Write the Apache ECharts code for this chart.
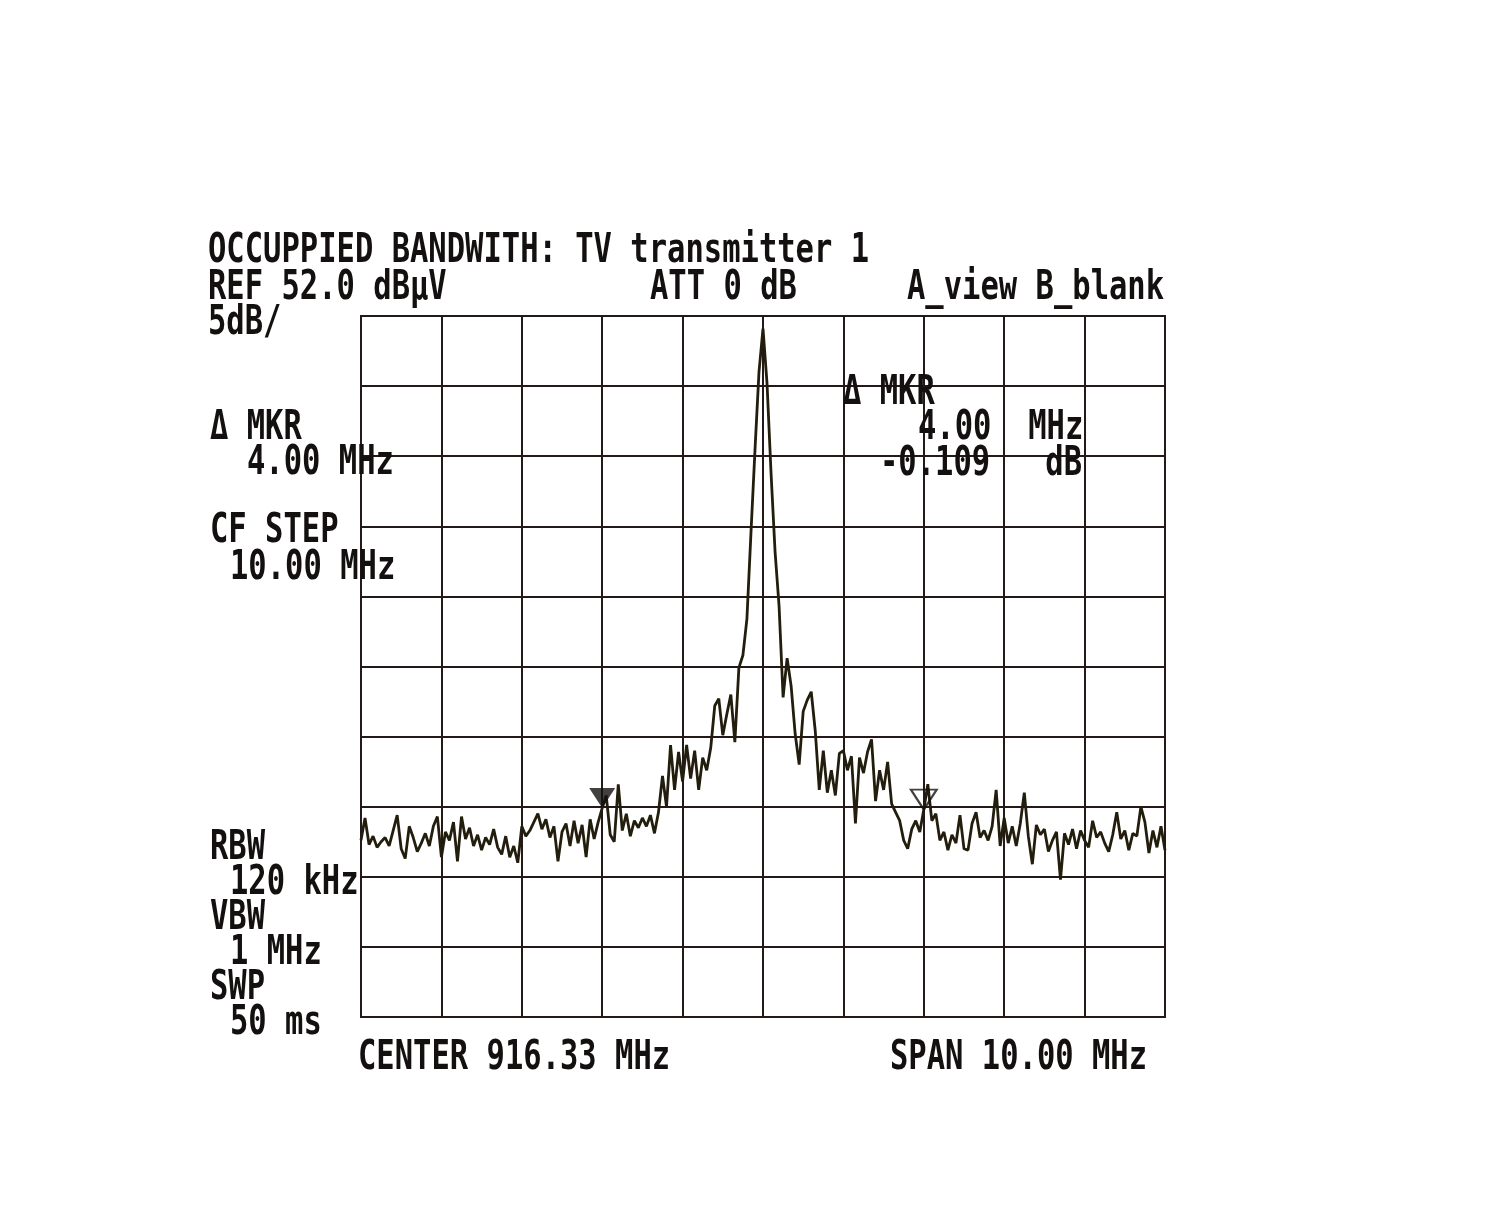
<!DOCTYPE html>
<html>
<head>
<meta charset="utf-8">
<script src="https://cdn.jsdelivr.net/npm/echarts@6/dist/echarts.min.js"></script>
<style>
html,body{margin:0;padding:0;background:#fff;}
#chart{width:1489px;height:1227px;}
</style>
</head>
<body>
<div id="chart"></div>
<script>
// ---- data ----
const REF_LEVEL = 52.0;          // dBuV, top of screen
const DB_PER_DIV = 5;
const SPAN_MIN = -5;             // MHz relative to centre 916.33 MHz
const SPAN_MAX = 5;
// trace level in dBuV, sweep points evenly spaced across span
const traceLevel = [
  14.6, 16.2, 14.3, 14.9, 14.1, 14.5, 14.8, 14.2, 15.3, 16.4, 14.0, 13.3, 15.6, 14.8, 13.8, 14.4, 15.1, 14.2, 15.6, 16.3,
  13.4, 15.2, 14.6, 15.9, 13.1, 16.3, 14.7, 15.5, 14.2, 15.0, 13.9, 14.8, 14.3, 15.4, 14.1, 13.6, 14.9, 13.4, 14.2, 13.0,
  15.6, 14.9, 15.3, 15.9, 16.5, 15.4, 16.1, 14.8, 15.6, 13.1, 15.2, 15.8, 14.2, 16.0, 14.4, 15.7, 13.4, 16.1, 14.7, 15.9,
  16.9, 17.8, 15.0, 14.5, 18.6, 15.3, 16.5, 14.9, 16.0, 15.5, 16.2, 15.6, 16.4, 15.1, 16.6, 19.2, 17.0, 21.4, 18.2, 20.9,
  18.8, 21.4, 19.0, 21.0, 18.2, 20.5, 19.6, 21.2, 24.2, 24.7, 22.1, 23.6, 25.0, 21.6, 26.9, 27.8, 30.4, 36.5, 42.4, 48.0,
  51.1, 47.2, 40.8, 35.2, 31.3, 24.8, 27.6, 25.6, 22.2, 20.0, 23.8, 24.6, 25.2, 22.4, 18.2, 21.0, 18.0, 19.6, 17.8, 20.8,
  21.0, 19.6, 20.6, 15.8, 20.5, 19.4, 20.9, 21.8, 17.4, 19.6, 18.2, 20.2, 17.2, 16.6, 16.0, 14.6, 14.0, 15.4, 16.0, 15.2,
  16.8, 18.6, 16.0, 16.5, 14.6, 15.2, 13.9, 15.0, 14.4, 16.4, 14.0, 13.9, 15.8, 16.6, 14.8, 15.3, 14.6, 15.6, 18.2, 14.2,
  16.2, 14.4, 15.6, 14.2, 15.8, 18.0, 14.9, 12.9, 15.7, 15.0, 15.4, 13.8, 14.6, 15.2, 11.8, 15.1, 14.3, 15.4, 14.0, 15.3,
  14.6, 14.1, 16.0, 14.8, 15.2, 14.4, 13.8, 15.0, 16.6, 14.7, 15.3, 13.9, 15.1, 14.9, 17.0, 15.9, 13.7, 15.3, 14.1, 15.6, 13.9
];
const markerFreq = [-2.0, 2.0];     // MHz rel. centre (reference marker, delta marker)
const markerLevel = [16.9, 16.8];   // dBuV

// ---- build ----
const n = traceLevel.length;
const traceData = traceLevel.map((v, i) => [SPAN_MIN + i * (SPAN_MAX - SPAN_MIN) / (n - 1), v - REF_LEVEL]);

const FONT_SIZE = 30.5;
const SY = 1.32;
const FONT = 'bold ' + FONT_SIZE + 'px "DejaVu Sans Mono", "Liberation Mono", monospace';
const INK = '#141010';
function txt(s, x, y) {
  return {
    type: 'text', x: x, y: y + 3, scaleY: SY, z: 10,
    style: { text: s, font: FONT, fill: INK, textVerticalAlign: 'top', textAlign: 'left' }
  };
}

const chart = echarts.init(document.getElementById('chart'), null, { renderer: 'canvas' });
const gridColor = '#241818';
chart.setOption({
  backgroundColor: '#ffffff',
  animation: false,
  grid: { left: 361, right: 1489 - 1165, top: 316, bottom: 1227 - 1017, show: true, borderColor: gridColor, borderWidth: 2, backgroundColor: 'transparent' },
  xAxis: {
    type: 'value', min: SPAN_MIN, max: SPAN_MAX, interval: 1,
    axisLine: { show: false }, axisTick: { show: false }, axisLabel: { show: false },
    splitLine: { show: true, lineStyle: { color: gridColor, width: 2 } }
  },
  yAxis: {
    type: 'value', min: -10 * DB_PER_DIV, max: 0, interval: DB_PER_DIV,
    axisLine: { show: false }, axisTick: { show: false }, axisLabel: { show: false },
    splitLine: { show: true, lineStyle: { color: gridColor, width: 2 } }
  },
  series: [
    {
      type: 'line', data: traceData, showSymbol: false, symbol: 'none',
      lineStyle: { color: '#221d0c', width: 2.8 }, z: 3
    },
    {
      type: 'scatter', z: 5,
      data: [[markerFreq[0], markerLevel[0] - REF_LEVEL]],
      symbol: 'triangle', symbolRotate: 180, symbolSize: [26, 20], symbolOffset: [0, -10],
      itemStyle: { color: '#141010' }
    },
    {
      type: 'scatter', z: 5,
      data: [[markerFreq[1], markerLevel[1] - REF_LEVEL]],
      symbol: 'triangle', symbolRotate: 180, symbolSize: [26, 20], symbolOffset: [0, -10],
      itemStyle: { color: 'rgba(255,255,255,0)', borderColor: '#141010', borderWidth: 2 }
    }
  ],
  graphic: [
    txt('OCCUPPIED BANDWITH: TV transmitter 1', 208, 228),
    txt('REF 52.0 dB\u03BCV', 208, 265),
    txt('ATT 0 dB', 650, 265),
    txt('A_view B_blank', 907, 265),
    txt('5dB/', 208, 300),
    txt('\u0394 MKR', 210, 405),
    txt('4.00 MHz', 247, 440),
    txt('CF STEP', 210, 508),
    txt('10.00 MHz', 230, 545),
    txt('\u0394 MKR', 843, 370),
    txt('4.00  MHz', 918, 405),
    txt('-0.109   dB', 880, 441),
    txt('RBW', 210, 825),
    txt('120 kHz', 230, 860),
    txt('VBW', 210, 895),
    txt('1 MHz', 230, 930),
    txt('SWP', 210, 965),
    txt('50 ms', 230, 1000),
    txt('CENTER 916.33 MHz', 358, 1035),
    txt('SPAN 10.00 MHz', 890, 1035)
  ]
});
</script>
</body>
</html>
